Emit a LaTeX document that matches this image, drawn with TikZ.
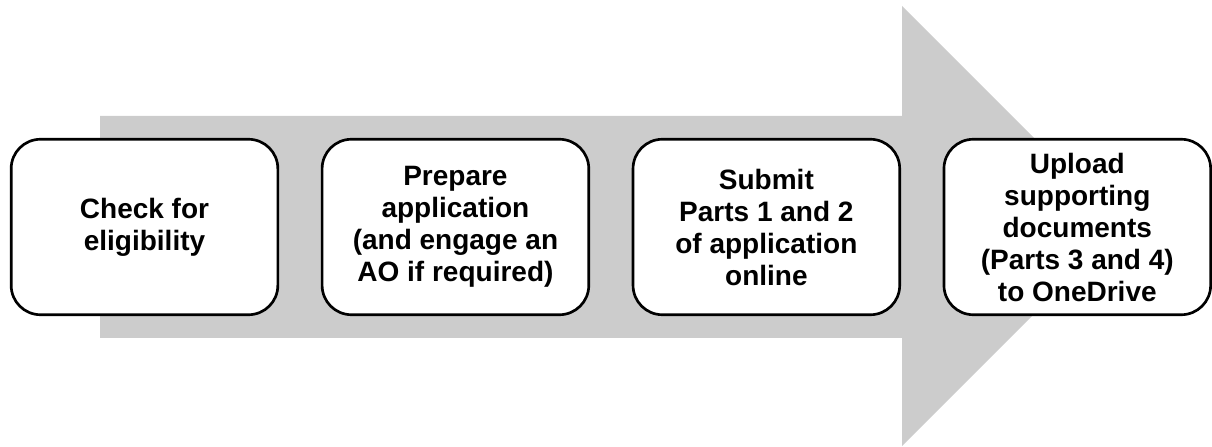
\documentclass[tikz,border=0pt]{standalone}
\usepackage{fontspec}
\setmainfont{Liberation Sans}
\usetikzlibrary{positioning}
\definecolor{arrowgrey}{RGB}{204,204,204}

\begin{document}
\begin{tikzpicture}[x=0.75pt, y=0.75pt,
  stepbox/.style={draw, line width=2pt, rounded corners=22pt, fill=white,
    minimum width=200pt, minimum height=131.6pt, inner sep=2pt, align=center,
    font=\fontsize{21}{24}\selectfont\bfseries}]
\useasboundingbox (0, 0) rectangle (1212, 446);
\fill [arrowgrey] (100, 108) -- (902, 108) -- (902, 0) -- (1122, 220) -- (902, 440) -- (902, 330) -- (100, 330) -- cycle;

\node [stepbox] (check) at (144.5, 219) {Check for\\eligibility};
\node [stepbox, right=31.2pt of check] (prepare) {Prepare\\application\\(and engage an\\AO if required)};
\node [stepbox, right=31.2pt of prepare] (submit) {Submit\\Parts 1 and 2\\of application\\online};
\node [stepbox, right=31.2pt of submit] (upload) {Upload\\supporting\\documents\\(Parts 3 and 4)\\to OneDrive};
\end{tikzpicture}
\end{document}
